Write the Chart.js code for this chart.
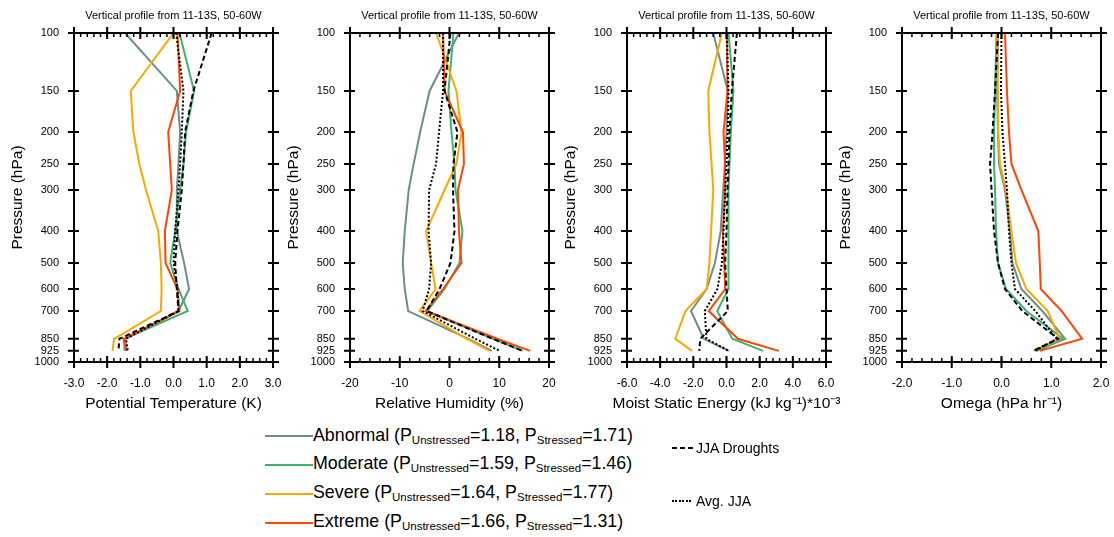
<!DOCTYPE html>
<html>
<head>
<meta charset="utf-8">
<script src="https://cdn.jsdelivr.net/npm/chart.js@4.4.1/dist/chart.umd.min.js"></script>
<style>
    body { margin: 0; background: #fff; font-family: "Liberation Sans", Arial, sans-serif; }
    #wrap { position: relative; width: 1114px; height: 537px; overflow: hidden; }
    #wrap canvas { position: absolute; top: 0; }
    .leg-line { position: absolute; height: 2px; }
    .leg-text { position: absolute; font-size: 17.8px; line-height: 20px; white-space: nowrap; color: #000; }
    .leg-text sub { font-size: 11.5px; vertical-align: baseline; position: relative; top: 3px; line-height: 0; }
    .leg-small { position: absolute; font-size: 14px; line-height: 16px; white-space: nowrap; color: #000; }
</style>
</head>
<body>
<div id="wrap"></div>
<script>
    // pressure levels (hPa) and y tick labels
    const pressureLevels = [100, 150, 200, 250, 300, 400, 500, 600, 700, 850, 925];
    const pressureTicks = [100, 150, 200, 250, 300, 400, 500, 600, 700, 850, 925, 1000];

    const seriesNames = ['Abnormal', 'Moderate', 'Severe', 'Extreme'];
    const pUnstressed = ['1.18', '1.59', '1.64', '1.66'];
    const pStressed = ['1.71', '1.46', '1.77', '1.31'];
    const refNames = ['JJA Droughts', 'Avg. JJA'];

    // Potential Temperature (K)
    const thetaAbnormal = [-1.46, 0.10, 0.20, 0.15, 0.10, 0.10, 0.32, 0.47, 0.15, -1.46, -1.41];
    const thetaModerate = [0.18, 0.62, 0.38, 0.30, 0.20, 0.05, -0.10, 0.15, 0.43, -1.48, -1.48];
    const thetaSevere = [0.00, -1.29, -1.21, -1.03, -0.83, -0.46, -0.38, -0.36, -0.38, -1.79, -1.84];
    const thetaExtreme = [0.12, 0.20, -0.16, -0.10, -0.05, -0.26, -0.24, 0.12, 0.18, -1.51, -1.43];
    const thetaDrought = [1.15, 0.60, 0.35, 0.30, 0.25, 0.12, 0.05, 0.10, 0.15, -1.63, -1.66];
    const thetaAvg = [0.08, 0.30, 0.25, 0.20, 0.15, 0.05, 0.00, 0.12, 0.15, -1.43, -1.38];

    // Relative Humidity (%)
    const rhAbnormal = [1.9, -4.0, -5.9, -7.2, -8.2, -9.0, -9.4, -9.0, -8.3, 3.8, 8.5];
    const rhModerate = [0.8, -0.2, 0.4, 1.0, 1.2, 2.6, 2.0, -1.0, -4.5, 8.7, 14.7];
    const rhSevere = [-2.7, 1.4, 2.4, 1.4, -1.0, -4.7, -3.7, -2.8, -6.0, 3.5, 8.0];
    const rhExtreme = [-1.3, -1.0, 2.7, 2.9, 1.7, 1.9, 2.4, -1.3, -4.8, 9.6, 16.2];
    const rhDrought = [0.2, -1.0, 1.6, 0.8, 0.7, 1.0, 0.2, -2.0, -4.6, 8.7, 14.7];
    const rhAvg = [-1.3, -1.3, -2.1, -2.7, -4.1, -4.2, -3.7, -4.1, -5.4, 5.2, 10.1];

    // Moist Static Energy (kJ kg-1)*10-3
    const mseAbnormal = [-0.80, 0.08, 0.00, -0.10, -0.20, -0.35, -0.70, -1.20, -2.14, -1.37, 0.14];
    const mseModerate = [0.12, 0.42, 0.26, 0.18, 0.12, 0.12, 0.12, 0.12, -0.56, 0.35, 2.20];
    const mseSevere = [-0.28, -1.10, -1.03, -0.90, -0.80, -0.93, -1.03, -1.20, -2.48, -3.09, -2.08];
    const mseExtreme = [0.02, 0.06, -0.18, -0.08, -0.08, -0.22, -0.14, -0.08, -1.07, 0.69, 3.15];
    const mseDrought = [0.63, 0.32, 0.18, 0.12, 0.06, 0.00, -0.08, 0.00, 0.08, -1.58, -1.64];
    const mseAvg = [0.02, 0.12, 0.08, 0.00, -0.08, -0.18, -0.28, -0.55, -1.31, -1.21, 0.14];

    // Omega (hPa hr-1)
    const omAbnormal = [-0.07, -0.09, -0.07, -0.05, 0.07, 0.17, 0.22, 0.40, 0.82, 1.28, 0.70];
    const omModerate = [-0.10, -0.13, -0.15, -0.15, -0.13, -0.11, -0.07, 0.09, 0.50, 1.24, 0.70];
    const omSevere = [-0.09, -0.07, -0.07, -0.03, 0.09, 0.20, 0.29, 0.50, 0.93, 1.17, 0.64];
    const omExtreme = [0.07, 0.11, 0.15, 0.20, 0.40, 0.74, 0.77, 0.79, 1.21, 1.62, 0.77];
    const omDrought = [-0.07, -0.13, -0.18, -0.23, -0.20, -0.15, -0.07, 0.07, 0.42, 1.14, 0.64];
    const omAvg = [0.00, -0.01, 0.02, 0.07, 0.11, 0.15, 0.20, 0.27, 0.68, 1.11, 0.67];

    const thetaTicks = [-3, -2, -1, 0, 1, 2, 3];
    const rhTicks = [-20, -10, 0, 10, 20];
    const mseTicks = [-6, -4, -2, 0, 2, 4, 6];
    const omTicks = [-2, -1, 0, 1, 2];

    const lineColors = ['#6b8e8e', '#3cb371', '#ffa500', '#ff4500', '#000000', '#000000'];
    const lineDashes = [[], [], [], [], [5, 3], [2, 2]];

    Chart.defaults.font.family = '"Liberation Sans", Arial, sans-serif';
    Chart.defaults.color = '#000';

    const panelTitle = 'Vertical profile from 11-13S, 50-60W';

    // frame, inward/outward tick marks, the small title on top and the x title
    const frameTicks = {
        id: 'frameTicks',
        afterDraw(chart, args, opts) {
            const {ctx, chartArea: a, scales: {x, y}} = chart;
            ctx.save();
            ctx.strokeStyle = '#000';
            ctx.lineWidth = 2;
            ctx.strokeRect(a.left, a.top, a.right - a.left, a.bottom - a.top);

            ctx.lineWidth = 1.5;
            ctx.beginPath();
            const n = Math.round((x.max - x.min) / opts.minorStep);
            for (let i = 0; i <= n; i++) {
                const px = x.getPixelForValue(x.min + i * opts.minorStep);
                ctx.moveTo(px, a.top);
                ctx.lineTo(px, a.top + 4);
                ctx.moveTo(px, a.bottom);
                ctx.lineTo(px, a.bottom - 4);
            }
            ctx.stroke();

            ctx.lineWidth = 2;
            ctx.beginPath();
            x.ticks.forEach(t => {
                const px = x.getPixelForValue(t.value);
                ctx.moveTo(px, a.top - 6);
                ctx.lineTo(px, a.top + 6);
                ctx.moveTo(px, a.bottom - 6);
                ctx.lineTo(px, a.bottom + 6);
            });
            y.ticks.forEach(t => {
                const py = y.getPixelForValue(t.value);
                ctx.moveTo(a.left - 6, py);
                ctx.lineTo(a.left + 5, py);
                ctx.moveTo(a.right - 5, py);
                ctx.lineTo(a.right + 6, py);
            });
            ctx.stroke();

            const cx = (a.left + a.right) / 2;
            ctx.fillStyle = '#000';
            ctx.textAlign = 'center';
            ctx.textBaseline = 'alphabetic';
            ctx.font = '11px "Liberation Sans", Arial, sans-serif';
            ctx.fillText(panelTitle, cx, 18.5);

            // drawn here so that the long title is not squeezed to the axis width
            ctx.textBaseline = 'middle';
            ctx.font = '15.5px "Liberation Sans", Arial, sans-serif';
            ctx.fillText(opts.xTitle, cx, 404);
            ctx.restore();
        }
    };

    function makePanel(left, xMin, xMax, xTicks, minorStep, decimals, xTitle, series) {
        const canvas = document.createElement('canvas');
        canvas.width = 300;
        canvas.height = 418;
        canvas.style.left = (left - 74) + 'px';
        canvas.style.width = '300px';
        canvas.style.height = '418px';
        document.getElementById('wrap').appendChild(canvas);

        const datasets = series.map((vals, i) => ({
            data: pressureLevels.map((p, k) => ({x: vals[k], y: p})),
            borderColor: lineColors[i],
            borderDash: lineDashes[i],
            borderWidth: 2,
            pointRadius: 0,
            tension: 0,
            fill: false,
            order: series.length - i
        }));

        return new Chart(canvas.getContext('2d'), {
            type: 'line',
            data: {datasets: datasets},
            options: {
                responsive: false,
                animation: false,
                devicePixelRatio: 1,
                layout: {padding: {top: 33, right: 27, left: 0, bottom: 0}},
                scales: {
                    x: {
                        type: 'linear',
                        min: xMin,
                        max: xMax,
                        afterBuildTicks: s => { s.ticks = xTicks.map(v => ({value: v})); },
                        afterFit: s => { s.height = 56; },
                        grid: {display: false, drawTicks: false},
                        border: {display: false},
                        ticks: {
                            autoSkip: false,
                            maxRotation: 0,
                            padding: 14,
                            font: {size: 12},
                            callback: v => v.toFixed(decimals)
                        },
                        title: {display: false}
                    },
                    y: {
                        type: 'logarithmic',
                        reverse: true,
                        min: 100,
                        max: 1000,
                        afterBuildTicks: s => { s.ticks = pressureTicks.map(v => ({value: v})); },
                        afterFit: s => { s.width = 74; },
                        grid: {display: false, drawTicks: false},
                        border: {display: false},
                        ticks: {autoSkip: false, padding: 15, font: {size: 11}, callback: v => String(v)},
                        title: {display: true, text: 'Pressure (hPa)', font: {size: 15.5}, padding: {top: 8, bottom: 0}}
                    }
                },
                plugins: {
                    legend: {display: false},
                    tooltip: {enabled: false},
                    frameTicks: {minorStep: minorStep, xTitle: xTitle}
                }
            },
            plugins: [frameTicks]
        });
    }

    makePanel(74, -3, 3, thetaTicks, 0.2, 1, 'Potential Temperature (K)',
        [thetaAbnormal, thetaModerate, thetaSevere, thetaExtreme, thetaDrought, thetaAvg]);
    makePanel(350, -20, 20, rhTicks, 2, 0, 'Relative Humidity (%)',
        [rhAbnormal, rhModerate, rhSevere, rhExtreme, rhDrought, rhAvg]);
    makePanel(627, -6, 6, mseTicks, 0.4, 1, 'Moist Static Energy (kJ kg\u207B\u00B9)*10\u207B\u00B3',
        [mseAbnormal, mseModerate, mseSevere, mseExtreme, mseDrought, mseAvg]);
    makePanel(902, -2, 2, omTicks, 0.2, 1, 'Omega (hPa hr\u207B\u00B9)',
        [omAbnormal, omModerate, omSevere, omExtreme, omDrought, omAvg]);

    // legend below the panels
    const wrap = document.getElementById('wrap');
    seriesNames.forEach((name, i) => {
        const lineY = 435.7 + i * 29;
        const sw = document.createElement('div');
        sw.className = 'leg-line';
        sw.style.left = '265px';
        sw.style.width = '48px';
        sw.style.top = (lineY - 1) + 'px';
        sw.style.background = lineColors[i];
        wrap.appendChild(sw);

        const txt = document.createElement('div');
        txt.className = 'leg-text';
        txt.style.left = '313px';
        txt.style.top = (424.5 + i * 28.7) + 'px';
        txt.innerHTML = name + ' (P<sub>Unstressed</sub>=' + pUnstressed[i] +
            ', P<sub>Stressed</sub>=' + pStressed[i] + ')';
        wrap.appendChild(txt);
    });

    const refY = [447.7, 500.5];
    const refPatterns = [
        'repeating-linear-gradient(to right, #000 0 5px, transparent 5px 8px)',
        'repeating-linear-gradient(to right, #000 0 2px, transparent 2px 3.5px)'
    ];
    refNames.forEach((name, i) => {
        const sw = document.createElement('div');
        sw.className = 'leg-line';
        sw.style.left = '672px';
        sw.style.width = '21px';
        sw.style.top = (refY[i] - 1) + 'px';
        sw.style.background = refPatterns[i];
        wrap.appendChild(sw);

        const txt = document.createElement('div');
        txt.className = 'leg-small';
        txt.style.left = '696px';
        txt.style.top = (refY[i] - 8) + 'px';
        txt.textContent = name;
        wrap.appendChild(txt);
    });
</script>
</body>
</html>
